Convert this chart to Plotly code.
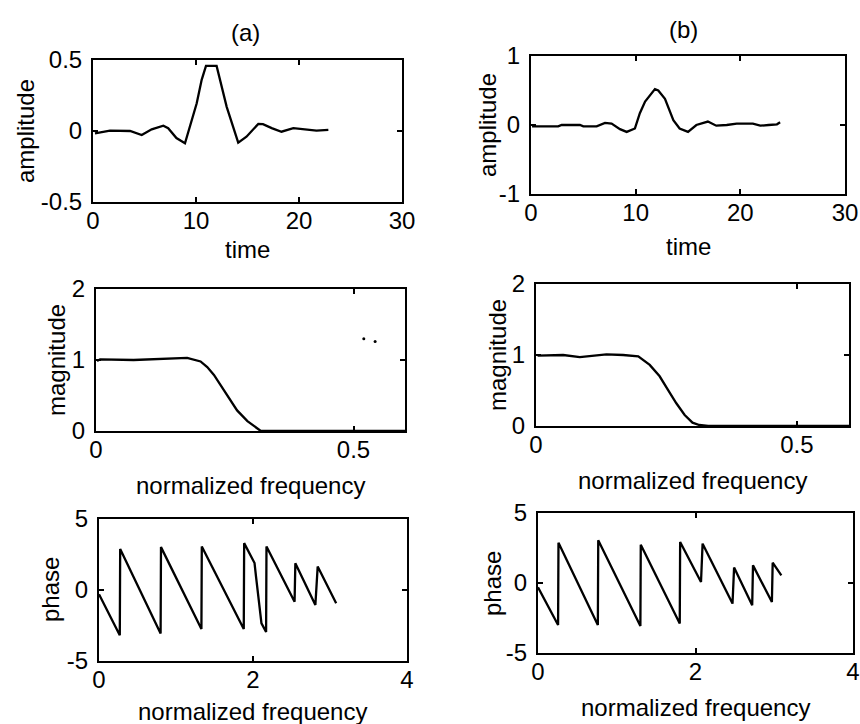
import plotly.graph_objects as go

# ---- data ----
a_time = [0.19, 1.65, 3.6, 4.73, 5.7, 6.83, 7.3, 8.1, 8.93, 9.4, 10.07, 10.55, 10.97, 12.0,
          12.33, 12.98, 14.1, 14.9, 16.05, 16.5, 17.35, 18.3, 19.45, 20.4, 21.7, 22.85]
a_amp = [-0.016, 0.002, 0.0, -0.028, 0.012, 0.037, 0.02, -0.05, -0.086, 0.03, 0.195, 0.36, 0.458, 0.458,
         0.36, 0.17, -0.082, -0.04, 0.05, 0.048, 0.02, -0.005, 0.02, 0.015, 0.003, 0.008]

b_time = [0.1, 0.4, 2.6, 2.93, 4.68, 5.0, 6.27, 7.07, 7.7, 8.5, 9.14, 9.93, 10.4, 10.9, 11.84, 12.16,
          12.8, 13.6, 14.2, 15.0, 15.8, 16.9, 17.7, 18.7, 19.65, 21.2, 21.9, 22.7, 23.5, 23.8]
b_amp = [-0.02, -0.02, -0.02, 0.0, 0.0, -0.02, -0.02, 0.03, 0.02, -0.06, -0.1, -0.05, 0.17, 0.34, 0.52, 0.5,
         0.38, 0.07, -0.05, -0.1, 0.0, 0.05, -0.01, 0.0, 0.02, 0.02, -0.01, 0.0, 0.01, 0.04]

a_freq = [0.002, 0.008, 0.073, 0.177, 0.203, 0.216, 0.229, 0.255, 0.274, 0.294, 0.313, 0.32, 0.6]
a_mag = [0.985, 1.01, 1.0, 1.03, 0.98, 0.9, 0.79, 0.5, 0.29, 0.14, 0.03, 0.0, 0.0]
a_dots_freq = [0.52, 0.542]
a_dots_mag = [1.3, 1.26]

b_freq = [0.003, 0.052, 0.084, 0.11, 0.135, 0.167, 0.196, 0.218, 0.237, 0.253, 0.269, 0.285, 0.30, 0.313, 0.33, 0.6]
b_mag = [0.99, 1.0, 0.97, 0.99, 1.01, 1.0, 0.98, 0.86, 0.70, 0.51, 0.32, 0.155, 0.047, 0.014, 0.0, 0.0]

a_pf = [0.0, 0.27, 0.275, 0.80, 0.805, 1.33, 1.335, 1.88, 1.885, 2.02, 2.04, 2.11, 2.17, 2.175,
        2.54, 2.55, 2.81, 2.84, 3.08]
a_phase = [-0.3, -3.18, 2.88, -3.07, 3.02, -2.75, 3.07, -2.75, 3.3, 1.9, 0.9, -2.35, -2.95, 3.07,
           -0.83, 1.89, -1.06, 1.65, -0.94]

b_pf = [0.0, 0.255, 0.26, 0.76, 0.765, 1.30, 1.305, 1.80, 1.805, 2.07, 2.09, 2.47, 2.49, 2.72, 2.73,
        2.97, 2.98, 3.09]
b_phase = [-0.3, -3.0, 2.88, -3.0, 3.05, -3.07, 2.74, -2.9, 2.93, 0.07, 2.81, -1.47, 1.1, -1.59, 1.26,
           -1.36, 1.45, 0.55]

W, H = 860, 724
FONT = "Liberation Sans, Arial, Helvetica, sans-serif"
FS = 24


def px(p):
    return p / W


def py(p):
    return 1 - p / H


# panel boxes in window pixels: (left, right, top, bottom)
boxes = {
    "a1": (93, 402, 60, 202), "b1": (531, 845, 56, 194),
    "a2": (96, 405, 289, 431), "b2": (536, 849, 284, 426),
    "a3": (99, 407, 519, 661), "b3": (538, 853, 513, 653),
}
order = ["a1", "b1", "a2", "b2", "a3", "b3"]

fig = go.Figure()

series = {
    "a1": (a_time, a_amp), "b1": (b_time, b_amp),
    "a2": (a_freq, a_mag), "b2": (b_freq, b_mag),
    "a3": (a_pf, a_phase), "b3": (b_pf, b_phase),
}
ranges = {
    "a1": ([0, 30], [-0.5, 0.5], [0, 10, 20, 30], [-0.5, 0, 0.5], ["0", "10", "20", "30"], ["-0.5", "0", "0.5"]),
    "b1": ([0, 30], [-1, 1], [0, 10, 20, 30], [-1, 0, 1], ["0", "10", "20", "30"], ["-1", "0", "1"]),
    "a2": ([0, 0.6], [0, 2], [0, 0.5], [0, 1, 2], ["0", "0.5"], ["0", "1", "2"]),
    "b2": ([0, 0.6], [0, 2], [0, 0.5], [0, 1, 2], ["0", "0.5"], ["0", "1", "2"]),
    "a3": ([0, 4], [-5, 5], [0, 2, 4], [-5, 0, 5], ["0", "2", "4"], ["-5", "0", "5"]),
    "b3": ([0, 4], [-5, 5], [0, 2, 4], [-5, 0, 5], ["0", "2", "4"], ["-5", "0", "5"]),
}

layout = {}
for i, key in enumerate(order):
    n = "" if i == 0 else str(i + 1)
    l, r, t, b = boxes[key]
    xr, yr, xt, yt, xtl, ytl = ranges[key]
    x, y = series[key]
    fig.add_trace(go.Scatter(x=x, y=y, mode="lines", line=dict(color="black", width=2.3),
                             xaxis="x" + n, yaxis="y" + n, showlegend=False))
    if key == "a2":
        fig.add_trace(go.Scatter(x=a_dots_freq, y=a_dots_mag, mode="markers",
                                 marker=dict(color="black", size=3), xaxis="x" + n, yaxis="y" + n,
                                 showlegend=False))
    common = dict(showline=True, linecolor="black", linewidth=2, mirror="ticks", ticks="inside",
                  ticklen=5, tickwidth=1.5, tickcolor="black", showgrid=False, zeroline=False,
                  automargin=False, tickfont=dict(family=FONT, size=FS, color="black"))
    layout["xaxis" + n] = dict(domain=[px(l), px(r)], range=xr, tickvals=xt, ticktext=xtl,
                               anchor="y" + n, ticklabelstandoff=-4, **common)
    layout["yaxis" + n] = dict(domain=[py(b), py(t)], range=yr, tickvals=yt, ticktext=ytl,
                               anchor="x" + n, ticklabelstandoff=4, **common)

fig.update_layout(**layout)

annots = [
    ("(a)", 245, 33, 0), ("(b)", 683, 30, 0),
    ("amplitude", 25, 131, -90), ("time", 247, 250, 0),
    ("amplitude", 488, 125, -90), ("time", 688, 247, 0),
    ("magnitude", 56, 360, -90), ("normalized frequency", 250, 485, 0),
    ("magnitude", 497, 355, -90), ("normalized frequency", 692, 480, 0),
    ("phase", 50, 590, -90), ("normalized frequency", 253, 711, 0),
    ("phase", 492, 583, -90), ("normalized frequency", 695, 707, 0),
]
for text, ax, ay, ang in annots:
    fig.add_annotation(text=text, x=px(ax), y=py(ay), xref="paper", yref="paper",
                       showarrow=False, textangle=ang, xanchor="center", yanchor="middle",
                       font=dict(family=FONT, size=FS, color="black"))

fig.update_layout(width=W, height=H, margin=dict(l=0, r=0, t=0, b=0, autoexpand=False),
                  paper_bgcolor="white", plot_bgcolor="white")

# remove the browser's default 8px body margin so the 860x724 figure fills the window exactly
fig.write_html("out.html", config={"displayModeBar": False},
               post_script="document.body.style.margin='0';document.body.style.overflow='hidden';")
